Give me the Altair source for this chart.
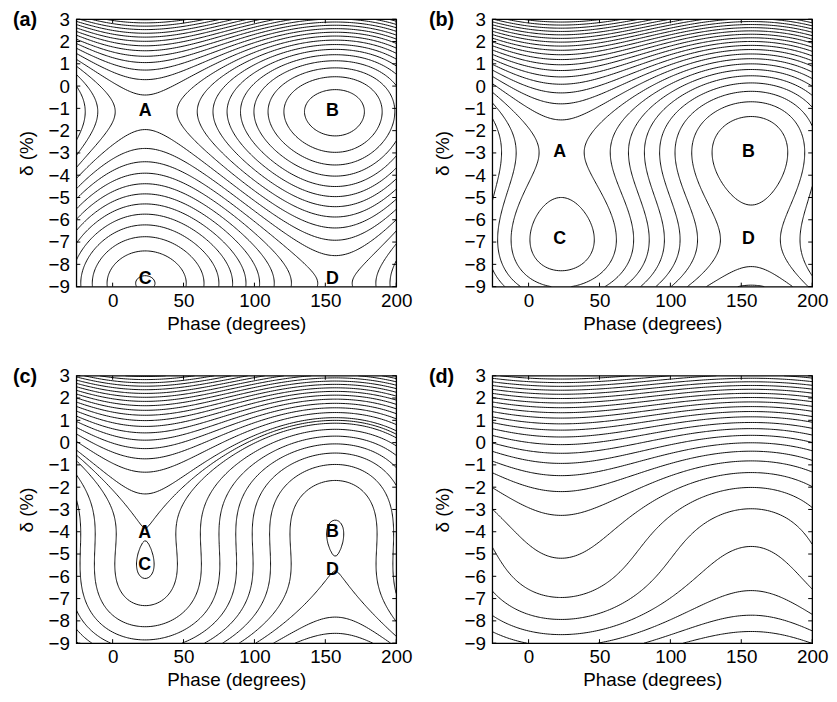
import numpy as np
import pandas as pd
import altair as alt

# ---------------- values ----------------
panel_names = ["(a)", "(b)", "(c)", "(d)"]
synchronous_phase = 23.0                 # degrees (A/C at 23, B/D at 157)
phase_range = [-25.6, 200.0]
delta_range = [-9.0, 3.0]
# centre of the two stationary energies and squared half-distance between them
delta_centre = [-5.0, -4.935, -4.78, -5.0]
half_gap_sq = [14.82, 3.82, 0.46, -4.5]    # negative: no fixed points (d)
delta_scale = [0.015, 0.015, 0.015, 0.0276]
level_step = [0.100, 0.1135, 0.123, 0.287]
anchor_phase = [1.6, 7.4, 157.0, 23.0]     # a point each panel's contours pass
anchor_delta = [-1.0, -3.0, -5.1, -5.19]
extra_phase = [[], [], [23.0], []]          # extra contour near a separatrix
extra_delta = [[], [], [-4.4], []]

# point labels
label_text = [["A", "B", "C", "D"], ["A", "B", "C", "D"], ["A", "B", "C", "D"], []]
label_phase = [[23, 155, 23, 155], [22, 155, 22, 155], [22.6, 155, 22.6, 155], []]
label_delta = [[-1.13, -1.13, -8.68, -8.68], [-2.98, -2.98, -6.86, -6.86],
               [-4.07, -4.0, -5.51, -5.7], []]

x_ticks = [0, 50, 100, 150, 200]
y_ticks = list(range(-9, 4))

W, H = 323, 270
TK = 4
FONT = "Liberation Sans"


def hamiltonian(p, phi_deg, dlt):
    ps = np.radians(synchronous_phase)
    ph = np.radians(phi_deg)
    u = dlt - delta_centre[p]
    F = u ** 3 / 3.0 - half_gap_sq[p] * u
    V = np.cos(ph) - np.cos(ps) + (ph - ps) * np.sin(ps)
    return delta_scale[p] * F + V


def contour_paths(X, Y, Z, level):
    above = Z >= level
    a = above[:-1, :-1]; b = above[:-1, 1:]; c = above[1:, 1:]; d = above[1:, :-1]
    idx = a.astype(int) + 2 * b + 4 * c + 8 * d
    cells = np.argwhere((idx != 0) & (idx != 15))
    adj = {}

    def add(e1, e2):
        adj.setdefault(e1, []).append(e2)
        adj.setdefault(e2, []).append(e1)

    for i, j in cells:
        sa, sb, sc, sd = above[i, j], above[i, j + 1], above[i + 1, j + 1], above[i + 1, j]
        E = {"ab": ("h", i, j), "bc": ("v", i, j + 1), "cd": ("h", i + 1, j), "da": ("v", i, j)}
        crossed = [k for k, s1, s2 in (("ab", sa, sb), ("bc", sb, sc), ("cd", sc, sd), ("da", sd, sa)) if s1 != s2]
        if len(crossed) == 2:
            add(E[crossed[0]], E[crossed[1]])
        elif len(crossed) == 4:
            cen = (Z[i, j] + Z[i, j + 1] + Z[i + 1, j + 1] + Z[i + 1, j]) / 4.0 >= level
            if cen == sa:
                add(E["ab"], E["bc"]); add(E["cd"], E["da"])
            else:
                add(E["da"], E["ab"]); add(E["bc"], E["cd"])

    def point(e):
        kind, i, j = e
        if kind == "h":
            z0, z1 = Z[i, j], Z[i, j + 1]
            t = (level - z0) / (z1 - z0)
            return X[j] + t * (X[j + 1] - X[j]), Y[i]
        z0, z1 = Z[i, j], Z[i + 1, j]
        t = (level - z0) / (z1 - z0)
        return X[j], Y[i] + t * (Y[i + 1] - Y[i])

    visited = set()
    paths = []
    starts = [e for e, n in adj.items() if len(n) == 1] + list(adj.keys())
    for s in starts:
        if s in visited:
            continue
        path = [s]; visited.add(s); cur = s
        while True:
            nxt = [n for n in adj[cur] if n not in visited]
            if not nxt:
                if len(path) > 2 and s in adj[cur]:
                    path.append(s)
                break
            cur = nxt[0]; visited.add(cur); path.append(cur)
        paths.append([point(e) for e in path])
    return paths


phi_grid = np.linspace(phase_range[0], phase_range[1], 151)
delta_grid = np.linspace(delta_range[0], delta_range[1], 241)
PG, DG = np.meshgrid(phi_grid, delta_grid)

xscale = alt.Scale(domain=phase_range, nice=False, zero=False)
yscale = alt.Scale(domain=delta_range, nice=False, zero=False)
xaxis = alt.Axis(values=x_ticks, title="Phase (degrees)", labelPadding=5, titlePadding=4,
                 labelFlush=False)
yaxis = alt.Axis(values=y_ticks, title="δ (%)", labelPadding=7, titlePadding=12,
                 labelFlush=False)


def X(field):
    return alt.X(field, type="quantitative", scale=xscale, axis=xaxis)


def Y(field):
    return alt.Y(field, type="quantitative", scale=yscale, axis=yaxis)


def panel(p):
    Z = hamiltonian(p, PG, DG)
    h0 = hamiltonian(p, anchor_phase[p], anchor_delta[p])
    step = level_step[p]
    nmin = int(np.floor((Z.min() - h0) / step))
    nmax = int(np.ceil((Z.max() - h0) / step))
    levels = [h0 + n * step for n in range(nmin, nmax + 1)]
    levels += [hamiltonian(p, ep, ed) for ep, ed in zip(extra_phase[p], extra_delta[p])]
    rows = []
    lid = 0
    for lev in levels:
        for path in contour_paths(phi_grid, delta_grid, Z, lev):
            for k, (x, y) in enumerate(path):
                rows.append((f"L{lid}", k, round(float(x), 3), round(float(y), 4)))
            lid += 1
    df = pd.DataFrame(rows, columns=["line", "ord", "phi", "delta"])

    lines = alt.Chart(df).mark_line(color="black", strokeWidth=0.95, clip=True).encode(
        x=X("phi"), y=Y("delta"), detail="line:N", order="ord:Q")
    ydf = pd.DataFrame({"phi": [phase_range[0]] * len(y_ticks), "delta": y_ticks})
    xdf = pd.DataFrame({"phi": x_ticks, "delta": [delta_range[0]] * len(x_ticks)})
    tl = alt.Chart(ydf).mark_rule(color="black", strokeWidth=1).encode(
        y=Y("delta"), x=alt.value(0), x2=alt.value(TK))
    tr = alt.Chart(ydf).mark_rule(color="black", strokeWidth=1).encode(
        y=Y("delta"), x=alt.value(W - TK), x2=alt.value(W))
    tb = alt.Chart(xdf).mark_rule(color="black", strokeWidth=1).encode(
        x=X("phi"), y=alt.value(H - TK), y2=alt.value(H))
    tt = alt.Chart(xdf).mark_rule(color="black", strokeWidth=1).encode(
        x=X("phi"), y=alt.value(0), y2=alt.value(TK))
    layers = [lines, tl, tr, tb, tt]
    if label_text[p]:
        ldf = pd.DataFrame({"t": label_text[p], "phi": label_phase[p], "delta": label_delta[p]})
        layers.append(alt.Chart(ldf).mark_text(font=FONT, fontSize=18, fontWeight="bold",
                                               color="black").encode(
            x=X("phi"), y=Y("delta"), text="t:N"))
    pdf = pd.DataFrame({"t": [panel_names[p]]})
    layers.append(alt.Chart(pdf).mark_text(font=FONT, fontSize=20, fontWeight="bold",
                                           align="left", baseline="middle",
                                           color="black").encode(
        text="t:N", x=alt.value(-64), y=alt.value(1)))
    return alt.layer(*layers).properties(width=W, height=H)


chart = alt.concat(panel(0), panel(1), panel(2), panel(3), columns=2,
                   spacing={"row": 90, "column": 97}, bounds="flush").properties(
    padding={"left": 4, "top": -2, "right": 0, "bottom": 0}
).configure_axis(
    labelFont=FONT, titleFont=FONT, labelFontSize=19, titleFontSize=19,
    titleFontWeight="normal", labelColor="black", titleColor="black",
    domain=False, ticks=False, tickSize=0, grid=False,
).configure_view(stroke="black", strokeWidth=1.3)

chart.save("out.html", embed_options={"renderer": "svg", "actions": False})
